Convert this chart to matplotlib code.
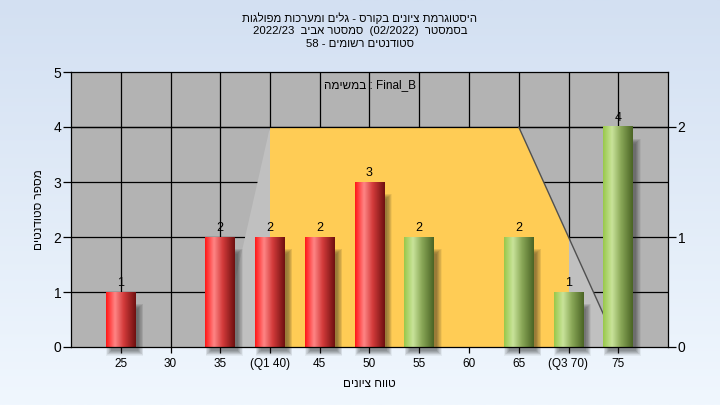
import numpy as np
import matplotlib
matplotlib.use("Agg")
import matplotlib.pyplot as plt
from matplotlib.patches import Polygon, Rectangle
from matplotlib.colors import LinearSegmentedColormap

plt.rcParams['font.family'] = ['Liberation Sans', 'DejaVu Sans']

# ---------------- data ----------------
categories = [25, 30, 35, 40, 45, 50, 55, 60, 65, 70, 75]
counts = [1, 0, 2, 2, 2, 3, 2, 0, 2, 1, 4]
tick_labels = ["25", "30", "35", "(Q1 40)", "45", "50", "55", "60", "65", "(Q3 70)", "75"]
bar_group = ["low", "low", "low", "low", "low", "low", "high", "high", "high", "high", "high"]
# overlay shape (x in grade units, y in right-axis units)
shape_x = [35, 40, 65, 75]
shape_y_right = [0, 2, 2, 0]
q1, q3 = 40, 70
right_ticks = [0, 1, 2]

# Hebrew strings (logical order); matplotlib has no bidi support, so they are
# laid out visually below.
title1 = "היסטוגרמת ציונים בקורס - גלים ומערכות מפולגות"
title2_parts = ["בסמסטר", "(02/2022)", "סמסטר אביב", "2022/23"]
title3_parts = ["סטודנטים רשומים", "-", "58"]
inner_heb, inner_lat = "במשימה", "Final_B"
ylabel = "מספר סטודנטים"
xlabel = "טווח ציונים"


def vis(s):
    return s[::-1]


def vis_parts(parts, sep=" "):
    out = []
    for p in parts:
        if any('\u0590' <= c <= '\u05ff' for c in p):
            out.append(vis(p))
        else:
            out.append(p)
    return sep.join(out[::-1])


# ---------------- figure ----------------
fig = plt.figure(figsize=(7.2, 4.05), dpi=100)

# background gradient
bg = fig.add_axes([0, 0, 1, 1], zorder=-10)
grad = np.linspace(0, 1, 256).reshape(-1, 1)
bg_cmap = LinearSegmentedColormap.from_list("bg", ["#d3e0f2", "#f0f7fe"])
bg.imshow(grad, aspect='auto', cmap=bg_cmap, extent=[0, 1, 0, 1], origin='upper')
bg.set_axis_off()

ax = fig.add_axes([71 / 720, 1 - 347 / 405, (668 - 71) / 720, (347 - 72) / 405])
ax.set_facecolor("#b3b3b3")

ymax = 5
scale = 2.0  # left units per right unit

# grid
for c in categories:
    ax.axvline(c, color='black', lw=0.9, zorder=0.5)
for yv in range(1, ymax):
    ax.axhline(yv, color='black', lw=0.9, zorder=0.5)

# overlay shapes
pts = list(zip(shape_x, [v * scale for v in shape_y_right]))
light = Polygon(pts, closed=True, facecolor="#c0c0c0", edgecolor='none', zorder=1)
ax.add_patch(light)
yellow = Polygon(pts, closed=True, facecolor="#ffcc55", edgecolor='none', zorder=1.1)
ax.add_patch(yellow)
clip = Rectangle((q1, 0), q3 - q1, ymax, transform=ax.transData)
yellow.set_clip_path(clip)
ax.plot(shape_x[2:], [v * scale for v in shape_y_right[2:]], color="#505050", lw=1.0, zorder=1.2)
ax.axhline(4, xmin=0, xmax=1, color='black', lw=0.9, zorder=1.15)

# bars with cylinder gradient
red_cmap = LinearSegmentedColormap.from_list(
    "red", [(0, "#ff1616"), (0.3, "#ff8585"), (0.6, "#d23a3a"), (1.0, "#6e1010")])
green_cmap = LinearSegmentedColormap.from_list(
    "green", [(0, "#98c84a"), (0.3, "#c9e39a"), (0.6, "#8aa858"), (1.0, "#4a6424")])
bw = 3.0
hgrad = np.linspace(0, 1, 128).reshape(1, -1)
ypx = 5 / 275.0  # y units per pixel
xpx = 60 / 597.0  # x units per pixel
for c, n, g in zip(categories, counts, bar_group):
    if n <= 0:
        continue
    x0, x1 = c - bw / 2, c + bw / 2
    # soft shadow (layered)
    nl = 10
    for k in range(nl):
        m = -1.5 + 5.0 * k / (nl - 1)  # pixels of expansion
        r = Rectangle((x0 + 4 * xpx - m * xpx, -5 * ypx - m * ypx),
                      bw + 2 * m * xpx, n - 4 * ypx + 2 * m * ypx - 6 * ypx,
                      facecolor="#1a1a1a", edgecolor='none', alpha=0.055,
                      zorder=2, clip_on=False)
        ax.add_patch(r)
    cmap = red_cmap if g == "low" else green_cmap
    ax.imshow(hgrad, aspect='auto', cmap=cmap, extent=[x0, x1, 0, n],
              interpolation='bilinear', zorder=3)
    ax.annotate(str(n), (c, n), xytext=(0, 2), textcoords='offset points',
                ha='center', va='bottom', fontsize=9, color='black', zorder=4)

ax.set_xlim(20, 80)
ax.set_ylim(0, ymax)
ax.set_xticks(categories)
ax.set_xticklabels(tick_labels, fontsize=8.5)
ax.set_yticks(range(0, ymax + 1))
ax.tick_params(axis='y', length=6, width=0.9, pad=1, labelsize=10)
ax.tick_params(axis='x', length=4, width=0.9, pad=4)
for s in ax.spines.values():
    s.set_color('black')
    s.set_linewidth(0.9)
    s.set_zorder(5)

ax2 = ax.twinx()
ax2.set_ylim(0, ymax / scale)
ax2.set_yticks(right_ticks)
ax2.tick_params(axis='y', length=6, width=0.9, pad=1, labelsize=10)
for s in ax2.spines.values():
    s.set_visible(False)

ax.set_ylabel(vis(ylabel), fontsize=8.5, labelpad=6)
ax.set_xlabel(vis(xlabel), fontsize=8.5, labelpad=6)

ax.text(0.5, 0.953, vis(inner_heb) + " : " + inner_lat, transform=ax.transAxes,
        ha='center', va='center', fontsize=8.5, zorder=5)

fig.text(0.5, 1 - 18 / 405, vis(title1), ha='center', va='center', fontsize=8.2)
fig.text(0.5, 1 - 31 / 405, vis_parts(title2_parts, sep="  "), ha='center', va='center', fontsize=8.2)
fig.text(0.5, 1 - 44 / 405, vis_parts(title3_parts), ha='center', va='center', fontsize=8.2)

fig.savefig("out.png", dpi=100)
